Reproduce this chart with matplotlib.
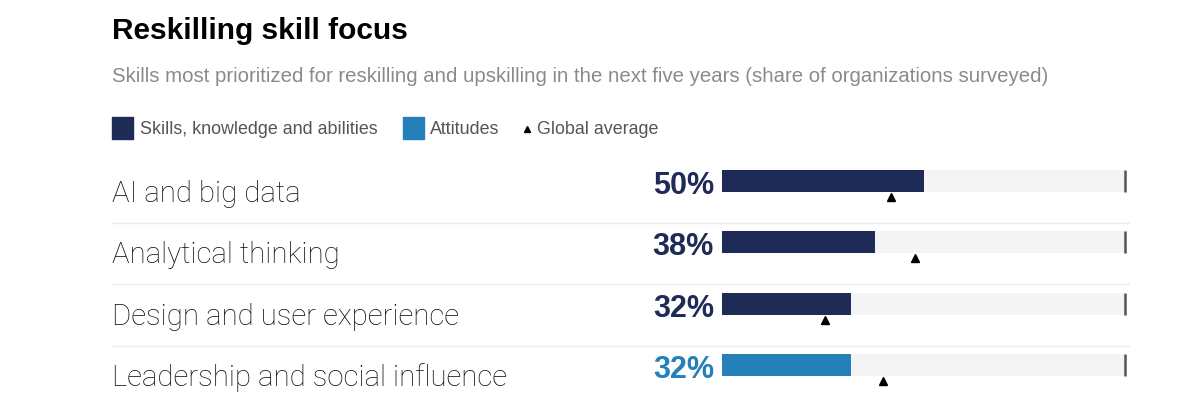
import matplotlib.pyplot as plt
from matplotlib.patches import Rectangle
from matplotlib.lines import Line2D

# data
skills = ['AI and big data', 'Analytical thinking', 'Design and user experience',
          'Leadership and social influence']
shares = [50, 38, 32, 32]
global_avg = [42, 48, 25.5, 40]
groups = ['skills', 'skills', 'skills', 'attitudes']

NAVY = '#1f2b57'
BLUE = '#2580b9'
colors = {'skills': NAVY, 'attitudes': BLUE}

plt.rcParams['font.family'] = ['Liberation Sans', 'DejaVu Sans']

W, H = 1200, 400
fig = plt.figure(figsize=(12, 4), dpi=100)

# axes covers 112..1130 px horizontally, 150..400 px vertically
x0_px, x1_px = 112, 1130
bar0_px, px_per_pct = 722, 4.03
row0_px, pitch = 181, 61.3
top_px = 150
ax = fig.add_axes([x0_px / W, 0, (x1_px - x0_px) / W, (H - top_px) / H])
ax.set_xlim((x0_px - bar0_px) / px_per_pct, (x1_px - bar0_px) / px_per_pct)
ax.set_ylim((H - row0_px) / pitch, (top_px - row0_px) / pitch)
ax.axis('off')

ys = list(range(len(skills)))
bar_h = 22 / pitch

ax.barh(ys, [100] * len(ys), height=bar_h, color='#f4f4f4', zorder=1)
ax.barh(ys, shares, height=bar_h, color=[colors[g] for g in groups], zorder=2)
ax.vlines([100] * len(ys), [y - bar_h / 2 for y in ys], [y + bar_h / 2 for y in ys],
          color='#555555', lw=1.8, zorder=3)
ax.plot(global_avg, [y + 16 / pitch for y in ys], '^', color='black', ms=5.5, zorder=4,
        clip_on=False)

for y in ys[:-1]:
    ax.axhline(y + 42 / pitch, color='#ececec', lw=1, zorder=0)

for y, name, v, g in zip(ys, skills, shares, groups):
    ax.text(0, y + 13 / pitch, name, transform=ax.get_yaxis_transform(),
            ha='left', va='center', fontsize=21.2, color='#111111',
            family=['Roboto', 'DejaVu Sans'], fontweight='light')
    ax.text(-8 / px_per_pct, y + 5 / pitch, f'{v}%', ha='right', va='center',
            fontsize=22, fontweight='bold', color=colors[g])

# title and subtitle
fig.text(112 / W, 1 - 31 / H, 'Reskilling skill focus', fontsize=21.5, fontweight='bold',
         color='black', va='center', ha='left')
fig.text(112 / W, 1 - 77 / H,
         'Skills most prioritized for reskilling and upskilling in the next five years '
         '(share of organizations surveyed)',
         fontsize=14.7, color='#8a8a8a', va='center', ha='left')

# legend
ly = 129
fig.patches.append(Rectangle((112 / W, 1 - 139 / H), 21 / W, 22 / H,
                             transform=fig.transFigure, color=NAVY))
fig.text(140 / W, 1 - ly / H, 'Skills, knowledge and abilities', fontsize=12.9,
         color='#555555', va='center', ha='left')
fig.patches.append(Rectangle((403 / W, 1 - 139 / H), 21 / W, 22 / H,
                             transform=fig.transFigure, color=BLUE))
fig.text(430 / W, 1 - ly / H, 'Attitudes', fontsize=12.9, color='#555555',
         va='center', ha='left')
fig.lines.append(Line2D([527 / W], [1 - 129 / H], marker='^', color='black', ms=5,
                        transform=fig.transFigure))
fig.text(537 / W, 1 - ly / H, 'Global average', fontsize=12.9, color='#555555',
         va='center', ha='left')

fig.savefig('out.png', dpi=100, facecolor='white')
